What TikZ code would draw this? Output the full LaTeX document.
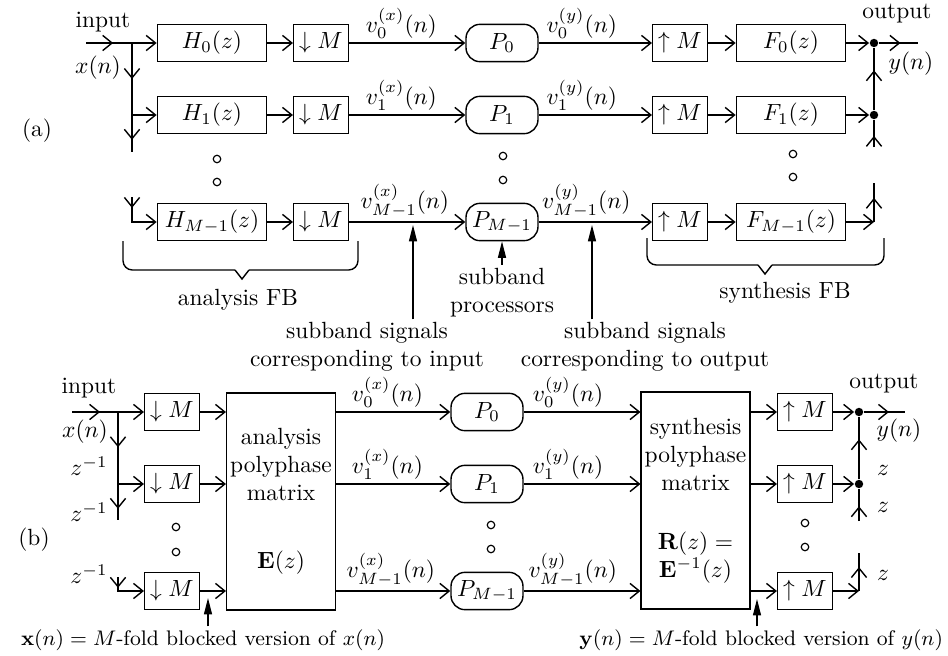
\documentclass[tikz,border=0pt]{standalone}
\usepackage{amsmath,amssymb}
\usepackage{tikz}
\usetikzlibrary{arrows.meta,decorations.markings}

\begin{document}
\begin{tikzpicture}[
    x=1.5cm, y=-1.5cm,
    line width=0.6pt,
    blk/.style={draw, minimum height=0.56cm, inner sep=1pt},
    filt/.style={blk, minimum width=1.64cm},
    rate/.style={blk, minimum width=0.82cm},
    proc/.style={draw, rounded corners=6pt, minimum width=1.08cm, minimum height=0.56cm, inner sep=1pt},
    poly/.style={draw, align=center, minimum width=1.63cm, minimum height=3.26cm, inner sep=1pt},
    jn/.style={circle, fill, inner sep=0pt, minimum size=3.6pt},
    hole/.style={circle, draw, line width=0.5pt, inner sep=0pt, minimum size=3.2pt},
    vlab/.style={above, inner sep=1.5pt},
    lbl/.style={align=center, inner sep=1pt},
    arr/.style={-{Straight Barb[length=4pt,width=6.5pt]}},
    marr/.style={postaction={decorate}, decoration={markings,
      mark=at position #1 with {\arrow{Straight Barb[length=4pt,width=6.5pt]}}}},
    ptr/.style={-{Triangle[length=7pt,width=3.4pt]}}
  ]
  \useasboundingbox (0,0) rectangle (9.48,6.56);

  % (a) filter bank
  \node (la) at (0.37,1.31) {(a)};
  \node (inputa) at (1.03,0.22) {input};
  \node (xa) at (0.98,0.68) {$x(n)$};
  \coordinate (ina) at (0.86,0.43);
  \coordinate (ba0) at (1.32,0.43);
  \coordinate (ba1) at (1.32,1.15);
  \coordinate (ba1e) at (1.32,1.52);
  \coordinate (ba2t) at (1.32,1.97);

  \node[filt] (H0) at (2.12,0.43) {$H_0(z)$};
  \node[filt] (H1) at (2.12,1.15) {$H_1(z)$};
  \node[filt] (H2) at (2.12,2.22) {$H_{M-1}(z)$};
  \node[rate] (D0) at (3.21,0.43) {$\downarrow M$};
  \node[rate] (D1) at (3.21,1.15) {$\downarrow M$};
  \node[rate] (D2) at (3.21,2.22) {$\downarrow M$};
  \node[proc] (P0) at (5.02,0.43) {$P_0$};
  \node[proc] (P1) at (5.02,1.15) {$P_1$};
  \node[proc] (P2) at (5.02,2.22) {$P_{M-1}$};
  \node[rate] (U0) at (6.80,0.43) {$\uparrow M$};
  \node[rate] (U1) at (6.80,1.15) {$\uparrow M$};
  \node[rate] (U2) at (6.80,2.22) {$\uparrow M$};
  \node[filt] (F0) at (7.91,0.43) {$F_0(z)$};
  \node[filt] (F1) at (7.91,1.15) {$F_1(z)$};
  \node[filt] (F2) at (7.91,2.22) {$F_{M-1}(z)$};

  \node[jn] (ja0) at (8.74,0.43) {};
  \node[jn] (ja1) at (8.74,1.15) {};
  \coordinate (ja1e) at (8.74,1.47);
  \coordinate (ja2) at (8.74,2.22);
  \coordinate (ja2t) at (8.74,1.83);
  \coordinate (outa) at (9.18,0.43);
  \node (outputa) at (8.97,0.14) {output};
  \node (ya) at (9.11,0.64) {$y(n)$};

  \node[hole] (ha1) at (2.17,1.59) {};
  \node[hole] (ha2) at (2.17,1.82) {};
  \node[hole] (pa1) at (5.03,1.56) {};
  \node[hole] (pa2) at (5.03,1.80) {};
  \node[hole] (fa1) at (7.93,1.54) {};
  \node[hole] (fa2) at (7.93,1.77) {};

  \draw[marr=0.59] (ina) -- (ba0);
  \draw[arr] (ba0) -- (H0);
  \draw[marr=0.5] (ba0) -- (ba1);
  \draw[arr] (ba1) -- (H1);
  \draw[marr=0.67] (ba1) -- (ba1e);
  \draw[arr, marr=0.22] (ba2t) |- (H2);

  \draw[arr] (H0) -- (D0);
  \draw[arr] (H1) -- (D1);
  \draw[arr] (H2) -- (D2);
  \draw[arr] (D0) -- node[vlab, pos=0.45] {$v_0^{(x)}(n)$} (P0);
  \draw[arr] (D1) -- node[vlab, pos=0.45] {$v_1^{(x)}(n)$} (P1);
  \draw[arr] (D2) -- node[vlab, pos=0.48] {$v_{M-1}^{(x)}(n)$} (P2);
  \draw[arr] (P0) -- node[vlab, pos=0.38] {$v_0^{(y)}(n)$} (U0);
  \draw[arr] (P1) -- node[vlab, pos=0.38] {$v_1^{(y)}(n)$} (U1);
  \draw[arr] (P2) -- node[vlab, pos=0.42] {$v_{M-1}^{(y)}(n)$} (U2);
  \draw[arr] (U0) -- (F0);
  \draw[arr] (U1) -- (F1);
  \draw[arr] (U2) -- (F2);

  \draw[arr] (F0) -- (ja0);
  \draw[marr=0.55] (ja0) -- (outa);
  \draw[arr] (F1) -- (ja1);
  \draw[marr=0.64] (ja1) -- (ja0);
  \draw[marr=0.41] (ja1e) -- (ja1);
  \draw[arr] (F2) -- (ja2);
  \draw[marr=0.62] (ja2) -- (ja2t);

  % braces
  \draw[rounded corners=4pt] (1.23,2.41) |- (2.35,2.70);
  \draw (2.35,2.70) -- (2.42,2.79) -- (2.49,2.70);
  \draw[rounded corners=4pt] (2.49,2.70) -| (3.58,2.41);
  \node (anafb) at (2.38,3.00) {analysis FB};
  \draw[rounded corners=4pt] (6.47,2.38) |- (7.58,2.65);
  \draw (7.58,2.65) -- (7.65,2.74) -- (7.72,2.65);
  \draw[rounded corners=4pt] (7.72,2.65) -| (8.84,2.38);
  \node (synfb) at (7.85,2.93) {synthesis FB};

  \node[lbl] (sigin) at (3.67,3.47) {subband signals\\corresponding to input};
  \node[lbl] (procs) at (5.02,2.925) {subband\\processors};
  \node[lbl] (sigout) at (6.45,3.47) {subband signals\\corresponding to output};
  \coordinate (sa) at (4.13,2.25);
  \coordinate (so) at (5.92,2.25);
  \draw[ptr] (sigin.north -| sa) -- (sa);
  \draw[ptr] (procs) -- (P2);
  \draw[ptr] (sigout.north -| so) -- (so);

  % (b) polyphase form
  \node (lb) at (0.34,5.40) {(b)};
  \node (inputb) at (0.89,3.88) {input};
  \node (xb) at (0.85,4.32) {$x(n)$};
  \node (zi1) at (0.89,4.66) {$z^{-1}$};
  \node (zi2) at (0.89,5.12) {$z^{-1}$};
  \node (zi3) at (0.89,5.74) {$z^{-1}$};
  \coordinate (inb) at (0.72,4.12);
  \coordinate (bb0) at (1.18,4.12);
  \coordinate (bb1) at (1.18,4.84);
  \coordinate (bb1e) at (1.18,5.20);
  \coordinate (bb2t) at (1.18,5.77);

  \node[rate] (Db0) at (1.72,4.12) {$\downarrow M$};
  \node[rate] (Db1) at (1.72,4.84) {$\downarrow M$};
  \node[rate] (Db2) at (1.72,5.91) {$\downarrow M$};
  \node[poly] (E) at (2.81,5.015) {analysis\\polyphase\\matrix\\[17pt]$\mathbf{E}(z)$};
  \node[proc] (Pb0) at (4.87,4.12) {$P_0$};
  \node[proc] (Pb1) at (4.87,4.84) {$P_1$};
  \node[proc] (Pb2) at (4.87,5.91) {$P_{M-1}$};
  \node[poly] (R) at (6.955,5.005) {synthesis\\polyphase\\matrix\\[13pt]$\mathbf{R}(z)=$\\$\mathbf{E}^{-1}(z)$};
  \node[rate] (Ub0) at (8.05,4.12) {$\uparrow M$};
  \node[rate] (Ub1) at (8.05,4.84) {$\uparrow M$};
  \node[rate] (Ub2) at (8.05,5.91) {$\uparrow M$};

  \node[jn] (jb0) at (8.59,4.12) {};
  \node[jn] (jb1) at (8.59,4.84) {};
  \coordinate (jb1e) at (8.59,5.21);
  \coordinate (jb2) at (8.59,5.91);
  \coordinate (jb2t) at (8.59,5.53);
  \coordinate (outb) at (9.05,4.12);
  \node (outputb) at (8.84,3.84) {output};
  \node (yb) at (8.99,4.31) {$y(n)$};
  \node (z1) at (8.83,4.70) {$z$};
  \node (z2) at (8.83,5.07) {$z$};
  \node (z3) at (8.83,5.75) {$z$};

  \node[hole] (hb1) at (1.76,5.27) {};
  \node[hole] (hb2) at (1.76,5.52) {};
  \node[hole] (pb1) at (4.91,5.25) {};
  \node[hole] (pb2) at (4.91,5.49) {};
  \node[hole] (ub1) at (8.05,5.23) {};
  \node[hole] (ub2) at (8.05,5.47) {};

  \draw[marr=0.61] (inb) -- (bb0);
  \draw[arr] (bb0) -- (Db0);
  \draw[marr=0.49] (bb0) -- (bb1);
  \draw[arr] (bb1) -- (Db1);
  \draw[marr=0.69] (bb1) -- (bb1e);
  \draw[arr, marr=0.27] (bb2t) |- (Db2);

  \draw[arr] (Db0) -- (Db0 -| E.west);
  \draw[arr] (Db1) -- (Db1 -| E.west);
  \draw[arr] (Db2) -- (Db2 -| E.west);
  \draw[arr] (E.east |- Pb0) -- node[vlab, pos=0.45] {$v_0^{(x)}(n)$} (Pb0);
  \draw[arr] (E.east |- Pb1) -- node[vlab, pos=0.45] {$v_1^{(x)}(n)$} (Pb1);
  \draw[arr] (E.east |- Pb2) -- node[vlab, pos=0.48] {$v_{M-1}^{(x)}(n)$} (Pb2);
  \draw[arr] (Pb0) -- node[vlab, pos=0.38] {$v_0^{(y)}(n)$} (Pb0 -| R.west);
  \draw[arr] (Pb1) -- node[vlab, pos=0.38] {$v_1^{(y)}(n)$} (Pb1 -| R.west);
  \draw[arr] (Pb2) -- node[vlab, pos=0.42] {$v_{M-1}^{(y)}(n)$} (Pb2 -| R.west);
  \draw[arr] (R.east |- Ub0) -- (Ub0);
  \draw[arr] (R.east |- Ub1) -- (Ub1);
  \draw[arr] (R.east |- Ub2) -- (Ub2);

  \draw[arr] (Ub0) -- (jb0);
  \draw[marr=0.61] (jb0) -- (outb);
  \draw[arr] (Ub1) -- (jb1);
  \draw[marr=0.64] (jb1) -- (jb0);
  \draw[marr=0.46] (jb1e) -- (jb1);
  \draw[arr] (Ub2) -- (jb2);
  \draw[marr=0.63] (jb2) -- (jb2t);

  \node[lbl, anchor=west, font=\small] (capx) at (0.18,6.40) {$\mathbf{x}(n)=M$-fold blocked version of $x(n)$};
  \node[lbl, anchor=east, font=\small] (capy) at (9.46,6.40) {$\mathbf{y}(n)=M$-fold blocked version of $y(n)$};
  \coordinate (bx) at (2.08,5.98);
  \coordinate (by) at (7.57,5.99);
  \draw[ptr] (capx.north -| bx) -- (bx);
  \draw[ptr] (capy.north -| by) -- (by);
\end{tikzpicture}
\end{document}
